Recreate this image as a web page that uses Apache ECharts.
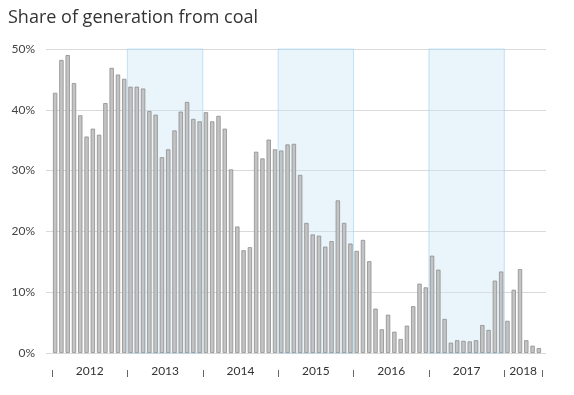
<!DOCTYPE html>
<html>
<head>
<meta charset="utf-8">
<script src="https://cdn.jsdelivr.net/npm/echarts@6/dist/echarts.min.js"></script>
<style>
html,body{margin:0;padding:0;background:#fff;}
#chart{width:574px;height:395px;}
</style>
</head>
<body>
<div id="chart"></div>
<script>
// ---- data ----
var years = [2012, 2013, 2014, 2015, 2016, 2017, 2018];
var monthsInYear = [12, 12, 12, 12, 12, 12, 6];
var shadedYears = [2013, 2015, 2017];
var yTicks = [0, 10, 20, 30, 40, 50];
var coal2012 = [42.8, 48.2, 49.0, 44.4, 39.1, 35.6, 36.9, 35.9, 41.1, 46.9, 45.8, 45.1];
var coal2013 = [43.8, 43.8, 43.5, 39.8, 39.2, 32.2, 33.5, 36.6, 39.7, 41.3, 38.5, 38.1];
var coal2014 = [39.6, 38.1, 39.0, 36.9, 30.2, 20.8, 16.9, 17.4, 33.1, 32.0, 35.1, 33.5];
var coal2015 = [33.3, 34.3, 34.4, 29.3, 21.4, 19.5, 19.3, 17.5, 18.4, 25.1, 21.4, 18.0];
var coal2016 = [16.8, 18.6, 15.1, 7.3, 3.9, 6.3, 3.5, 2.3, 4.5, 7.7, 11.4, 10.8];
var coal2017 = [16.0, 13.7, 5.6, 1.7, 2.1, 2.0, 1.9, 2.1, 4.6, 3.8, 11.9, 13.4];
var coal2018 = [5.3, 10.4, 13.8, 2.1, 1.2, 0.8];

var values = [].concat(coal2012, coal2013, coal2014, coal2015, coal2016, coal2017, coal2018);
var categories = [];
years.forEach(function (y, yi) {
  for (var m = 1; m <= monthsInYear[yi]; m++) {
    categories.push(y + '-' + (m < 10 ? '0' + m : m));
  }
});
var nMonths = categories.length;

var yearStart = {};
var labelIdx = {};
var start = 0;
years.forEach(function (y, yi) {
  yearStart[y] = start;
  labelIdx[start + monthsInYear[yi] / 2 - 1] = true;
  start += monthsInYear[yi];
});
var tickIdx = {};
years.forEach(function (y) { tickIdx[yearStart[y]] = true; });

var shadeAreas = shadedYears.map(function (y) {
  var yi = years.indexOf(y);
  return [{ xAxis: yearStart[y] }, { xAxis: yearStart[y] + monthsInYear[yi] }];
});

var FONT = 'Lato, "Open Sans", sans-serif';
var chart = echarts.init(document.getElementById('chart'), null, { renderer: 'canvas' });
var option = {
  animation: false,
  backgroundColor: '#fff',
  title: {
    text: 'Share of generation from coal',
    left: 8, top: 9, padding: 0,
    textStyle: { fontFamily: '"Open Sans", sans-serif', fontSize: 18, fontWeight: 'normal', color: '#333' }
  },
  grid: [
    { left: 46, right: 28, top: 49, bottom: 42 },
    { left: 52, right: 32, top: 49, bottom: 42 }
  ],
  xAxis: [
    { gridIndex: 0, type: 'value', min: 0, max: 1, show: false },
    {
      gridIndex: 1, type: 'category', data: categories, offset: 24, position: 'bottom',
      axisLine: { show: false, onZero: false },
      axisTick: {
        show: true, length: 7, inside: true,
        interval: function (i) { return !!tickIdx[i]; },
        lineStyle: { color: '#666', width: 1 }
      },
      axisLabel: {
        show: true, margin: -6, verticalAlign: 'middle',
        interval: function (i) { return !!labelIdx[i]; },
        formatter: function (v) { return v.slice(0, 4); },
        padding: [0, 0, 0, 6.3],
        fontFamily: FONT, fontSize: 12, color: '#333'
      },
      splitLine: { show: false }
    },
    { gridIndex: 1, type: 'value', min: 0, max: nMonths, show: false }
  ],
  yAxis: [
    {
      gridIndex: 0, type: 'value', min: 0, max: 50, interval: 10,
      axisLine: { show: false }, axisTick: { show: false },
      axisLabel: { formatter: '{value}%', margin: 11, fontFamily: FONT, fontSize: 12, color: '#444' },
      splitLine: { lineStyle: { color: '#dadada', width: 1 } }
    },
    { gridIndex: 1, type: 'value', min: 0, max: 50, interval: 10, show: false, splitLine: { show: false } }
  ],
  series: [
    {
      type: 'line', xAxisIndex: 2, yAxisIndex: 1, data: [], silent: true,
      markArea: {
        silent: true,
        itemStyle: { color: 'rgba(200,228,246,0.4)', borderColor: 'rgba(160,210,238,0.6)', borderWidth: 1 },
        data: shadeAreas
      }
    },
    {
      type: 'bar', xAxisIndex: 1, yAxisIndex: 1, data: values,
      barCategoryGap: '31%',
      itemStyle: { color: '#c4c4c4', borderColor: '#8e8e8e', borderWidth: 0.8 }
    }
  ]
};
chart.setOption(option);
</script>
</body>
</html>
